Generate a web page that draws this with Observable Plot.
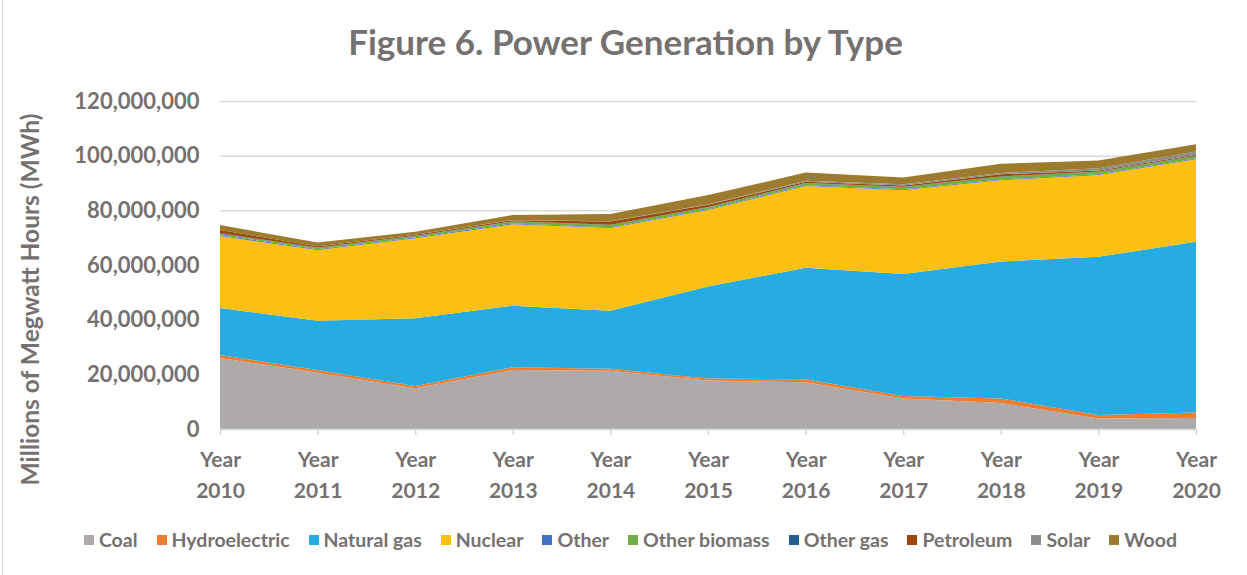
<!DOCTYPE html>
<html>
<head>
<meta charset="utf-8">
<script src="https://cdn.jsdelivr.net/npm/d3@7"></script>
<script src="https://cdn.jsdelivr.net/npm/@observablehq/plot@0.6"></script>
<style>
  html, body { margin: 0; padding: 0; background: #fff; }
  body { width: 1247px; height: 575px; overflow: hidden; font-family: Lato, "Open Sans", sans-serif; color: #767171; position: relative; }
  #frame { position: absolute; left: 2px; top: 0; width: 1px; height: 575px; background: #d9d9d9; }
  #title { height: 70px; text-align: center; font-weight: bold; font-size: 35px; line-height: 70px; box-sizing: border-box; padding-top: 6px; padding-left: 4px; }
  #chart svg { overflow: visible; }
  #legend { display: flex; justify-content: center; align-items: center; gap: 19px; font-weight: bold; font-size: 19.5px; margin-top: 8px; padding-left: 14px; }
  #legend .item { display: flex; align-items: center; gap: 5px; }
  #legend .sw { width: 10px; height: 10px; display: inline-block; }
</style>
</head>
<body>
<div id="frame"></div>
<div id="title">Figure 6. Power Generation by Type</div>
<div id="chart"></div>
<div id="legend"></div>
<script>
const years = [2010, 2011, 2012, 2013, 2014, 2015, 2016, 2017, 2018, 2019, 2020];
const types = ["Coal", "Hydroelectric", "Natural gas", "Nuclear", "Other", "Other biomass", "Other gas", "Petroleum", "Solar", "Wood"];
const colors = ["#AEAAAA", "#ED7D31", "#26ABE2", "#FBC012", "#4472C4", "#70AD47", "#255E91", "#9E480E", "#8C8C8C", "#9C7A2E"];

// values in millions of MWh
const coal          = [26.0, 20.6, 14.9, 21.6, 21.3, 17.7, 17.1, 11.2, 9.5, 3.8, 4.0];
const hydroelectric = [1.1, 1.0, 0.8, 1.0, 0.7, 0.8, 1.1, 0.9, 1.7, 1.3, 2.0];
const naturalGas    = [17.2, 18.0, 24.8, 22.5, 21.3, 33.6, 40.8, 44.6, 50.1, 57.9, 62.5];
const nuclear       = [26.3, 25.9, 29.3, 29.8, 30.2, 28.0, 29.9, 30.7, 29.7, 29.9, 30.2];
const other         = [0.3, 0.3, 0.3, 0.3, 0.3, 0.3, 0.3, 0.3, 0.3, 0.3, 0.3];
const otherBiomass  = [0.5, 0.5, 0.5, 0.7, 0.8, 0.7, 0.7, 0.8, 1.0, 0.9, 0.9];
const otherGas      = [0.2, 0.1, 0.1, 0.1, 0.1, 0.1, 0.1, 0.1, 0.1, 0.1, 0.1];
const petroleum     = [1.2, 0.5, 0.4, 0.4, 1.2, 0.8, 0.5, 0.5, 0.8, 0.4, 0.3];
const solar         = [0.0, 0.0, 0.0, 0.1, 0.1, 0.2, 0.3, 0.4, 0.5, 0.8, 1.2];
const wood          = [1.8, 1.3, 1.1, 1.8, 2.7, 3.4, 3.0, 2.5, 3.3, 2.8, 2.7];

const yTicks = [0, 20000000, 40000000, 60000000, 80000000, 100000000, 120000000];

const seriesValues = [coal, hydroelectric, naturalGas, nuclear, other, otherBiomass, otherGas, petroleum, solar, wood];
const data = [];
types.forEach((t, i) => {
  years.forEach((yr, j) => data.push({type: t, year: yr, value: seriesValues[i][j] * 1e6}));
});

const chart = Plot.plot({
  width: 1247,
  height: 450,
  marginLeft: 220,
  marginRight: 51,
  marginTop: 31,
  marginBottom: 91,
  style: {fontFamily: "Lato, 'Open Sans', sans-serif", fontSize: "20px", fontWeight: "bold", color: "#767171", background: "transparent", overflow: "visible"},
  x: {domain: [2010, 2020], label: null},
  y: {domain: [0, 120000000], label: null},
  color: {domain: types, range: colors},
  marks: [
    Plot.gridY(yTicks, {stroke: "#d9d9d9", strokeOpacity: 1, strokeWidth: 1.5}),
    Plot.areaY(data, {x: "year", y: "value", fill: "type", order: types, curve: "linear"}),
    Plot.ruleY([0], {stroke: "#d9d9d9", strokeWidth: 1.5}),
    Plot.axisY(yTicks, {tickSize: 0, tickPadding: 21, tickFormat: d3.format(","), label: null, fontSize: 22}),
    Plot.axisX(years, {tickSize: 6, stroke: "#d9d9d9", strokeWidth: 1.5, tickPadding: 10, tickFormat: d => `Year\n${d}`, label: null, fontSize: 21, lineHeight: 1.45}),
    Plot.text(["Millions of Megwatt Hours (MWh)"], {frameAnchor: "left", textAnchor: "middle", rotate: -90, dx: -189, dy: 34, fontSize: 24.5, fontWeight: "bold", fill: "#767171"})
  ]
});
document.getElementById("chart").appendChild(chart);

const legend = document.getElementById("legend");
types.forEach((t, i) => {
  const item = document.createElement("div");
  item.className = "item";
  const sw = document.createElement("span");
  sw.className = "sw";
  sw.style.background = colors[i];
  const label = document.createElement("span");
  label.textContent = t;
  item.appendChild(sw);
  item.appendChild(label);
  legend.appendChild(item);
});
</script>
</body>
</html>
